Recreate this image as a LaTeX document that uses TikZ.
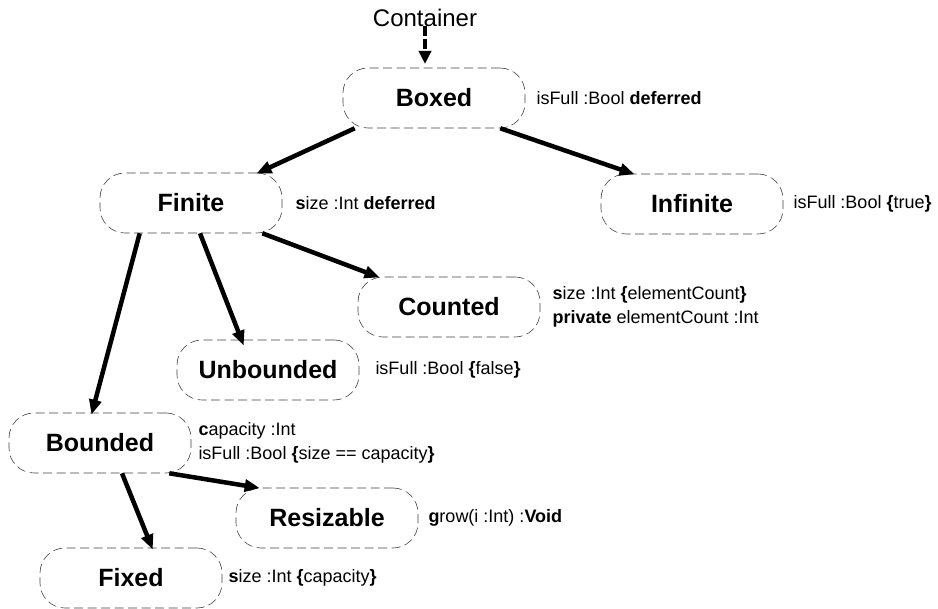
\documentclass[tikz,border=0pt]{standalone}
\usepackage{fontspec}
\setmainfont{Liberation Sans}
\usetikzlibrary{arrows.meta}
\begin{document}
\begin{tikzpicture}[x=1pt,y=-1pt,
  cls/.style={draw=black!75, dashed, dash pattern=on 9pt off 4.5pt, line width=0.6pt,
    rounded corners=25pt, minimum width=182pt, minimum height=60pt,
    font=\fontsize{25}{29}\selectfont\bfseries},
  attr/.style={anchor=west, align=left, inner sep=0pt,
    font=\fontsize{18}{23.5}\selectfont},
  inh/.style={line width=4.5pt, -{Triangle[length=15pt,width=12pt]}, shorten >=-2pt}
]
\useasboundingbox (0,0) rectangle (938,609);

% title and its pointer into the root class
\node[font=\fontsize{24}{28}\selectfont] (container) at (425,18) {Container};
\coordinate (cdown) at (425,64);
\draw[line width=4.5pt, dash pattern=on 10pt off 3pt,
      -{Triangle[length=13pt,width=12pt]}] ([yshift=4pt]container.south) -- (cdown);

% classes
\node[cls] (boxed)     at (434,98)  {Boxed};
\node[cls] (finite)    at (191,203) {Finite};
\node[cls] (infinite)  at (692,204) {Infinite};
\node[cls] (counted)   at (449,307) {Counted};
\node[cls] (unbounded) at (268,370) {Unbounded};
\node[cls] (bounded)   at (100,443) {Bounded};
\node[cls] (resizable) at (327,518) {Resizable};
\node[cls] (fixed)     at (131,578) {Fixed};

% features
\node[attr] (boxedf)  at ([xshift=11pt]boxed.east)  {isFull :Bool \textbf{deferred}};
\node[attr] (finitef) at ([xshift=13pt]finite.east) {\textbf{s}ize :Int \textbf{deferred}};
\node[attr] (infinitef) at ([xshift=10pt]infinite.east) {isFull :Bool \textbf{\{}true\textbf{\}}};
\node[attr] (countedf) at ([xshift=12pt]counted.east)
  {\textbf{s}ize :Int \textbf{\{}elementCount\textbf{\}}\\\textbf{private} elementCount :Int};
\node[attr] (unboundedf) at ([xshift=16pt]unbounded.east) {isFull :Bool \textbf{\{}false\textbf{\}}};
\node[attr] (boundedf) at ([xshift=7pt]bounded.east)
  {\textbf{c}apacity :Int\\isFull :Bool \textbf{\{}size == capacity\textbf{\}}};
\node[attr] (resizablef) at ([xshift=10pt]resizable.east) {\textbf{g}row(i :Int) :\textbf{Void}};
\node[attr] (fixedf) at ([xshift=6pt]fixed.east) {\textbf{s}ize :Int \textbf{\{}capacity\textbf{\}}};

% inheritance
\draw[inh] ([xshift=12pt]boxed.south west) -- ([xshift=-24pt]finite.north east);
\draw[inh] ([xshift=-25pt]boxed.south east) -- ([xshift=32pt]infinite.north west);
\draw[inh] ([xshift=-20pt]finite.south east) -- ([xshift=20pt]counted.north west);
\draw[inh] ([xshift=9pt]finite.south) -- ([xshift=-25pt,yshift=-4pt]unbounded.north);
\draw[inh] ([xshift=40pt]finite.south west) -- ([xshift=-8pt]bounded.north);
\draw[inh] ([xshift=-22pt]bounded.south east) -- ([xshift=22pt]resizable.north west);
\draw[inh] ([xshift=22pt]bounded.south) -- ([xshift=21pt]fixed.north);
\end{tikzpicture}
\end{document}
